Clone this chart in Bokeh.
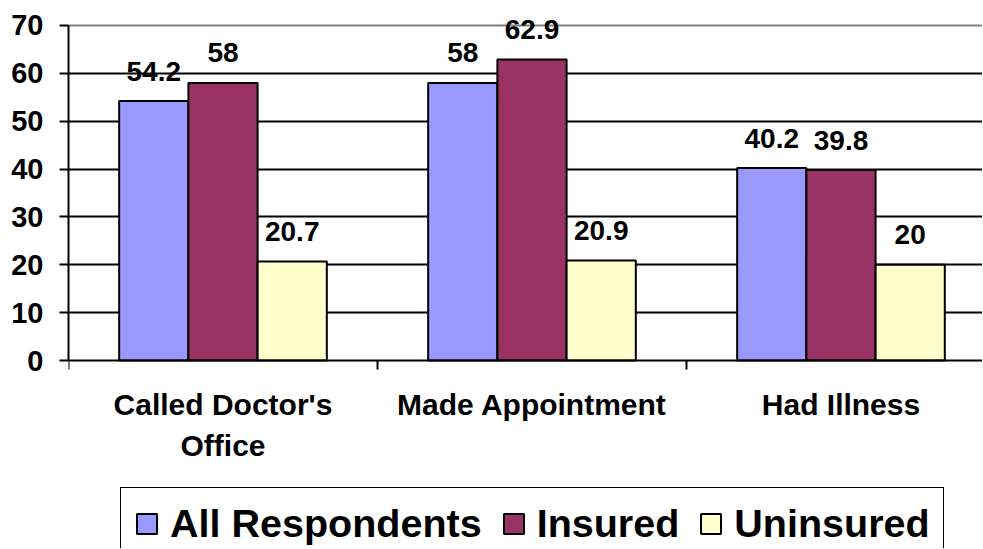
from bokeh.plotting import figure
from bokeh.models import (ColumnDataSource, FixedTicker, Range1d, Legend, LegendItem, Grid)
from bokeh.core.properties import value
from bokeh.embed import file_html
from bokeh.resources import INLINE

# ---- data ----
categories = ["Called Doctor's\nOffice", "Made Appointment", "Had Illness"]
series_names = ["All Respondents", "Insured", "Uninsured"]
all_respondents = [54.2, 58, 40.2]
insured = [58, 62.9, 39.8]
uninsured = [20.7, 20.9, 20]
y_ticks = [0, 10, 20, 30, 40, 50, 60, 70]
colors = ["#9999FF", "#993366", "#FFFFCC"]

FONT = "Liberation Sans"
BAR_W = 0.224

# the frame fills the whole figure (apart from the left axis) so that the value
# labels above the bars and the legend below the category axis (fixed at y = 0)
# are not clipped
p = figure(width=982, height=548, output_backend="svg", toolbar_location=None,
           x_range=Range1d(0, 2.958), y_range=Range1d(-39.28, 75.22),
           min_border_left=68, min_border_right=0, min_border_top=0,
           min_border_bottom=0)
p.outline_line_color = None
p.background_fill_color = "white"
p.border_fill_color = "white"

# bars and labels
renderers = []
for k, (name, vals, col) in enumerate(zip(series_names, [all_respondents, insured, uninsured], colors)):
    xs = [i + 0.5 + (k - 1) * BAR_W for i in range(len(categories))]
    src = ColumnDataSource(dict(x=xs, top=vals, label=[f"{v:g}" for v in vals]))
    r = p.vbar(x="x", top="top", bottom=0, width=BAR_W, source=src,
               fill_color=col, line_color="black", line_width=2)
    renderers.append(r)
    p.text(x="x", y="top", text="label", source=src, text_align="center",
           text_baseline="alphabetic", y_offset=-30, text_font=value(FONT),
           text_font_style="bold", text_font_size="28px", text_color="black")

# y axis
yax = p.yaxis[0]
yax.ticker = FixedTicker(ticks=y_ticks, minor_ticks=[])
yax.bounds = (y_ticks[0], y_ticks[-1])
yax.major_label_text_font = FONT
yax.major_label_text_font_style = "bold"
yax.major_label_text_font_size = "29px"
yax.major_label_text_color = "black"
yax.major_tick_out = 9
yax.major_tick_in = 0
yax.major_tick_line_width = 2
yax.major_tick_line_color = "black"
yax.axis_line_width = 2
yax.axis_line_color = "black"
yax.major_label_standoff = 16

# x axis
xax = p.xaxis[0]
xax.fixed_location = 0
centers = [i + 0.5 for i in range(len(categories))]
xax.ticker = FixedTicker(ticks=centers, minor_ticks=list(range(len(categories) + 1)))
xax.major_label_overrides = {c: lab for c, lab in zip(centers, categories)}
xax.major_label_text_font = FONT
xax.major_label_text_font_style = "bold"
xax.major_label_text_font_size = "30px"
xax.major_label_text_color = "black"
xax.major_label_text_line_height = 1.27
xax.major_tick_line_color = None
xax.major_tick_out = 0
xax.major_tick_in = 0
xax.minor_tick_out = 9
xax.minor_tick_in = 0
xax.minor_tick_line_width = 2
xax.minor_tick_line_color = "black"
xax.axis_line_width = 2
xax.axis_line_color = "black"
xax.major_label_standoff = 18

# grids
p.xgrid.visible = False
p.ygrid.ticker = FixedTicker(ticks=y_ticks[1:-1])
p.ygrid.grid_line_color = "black"
p.ygrid.grid_line_width = 2
top_grid = Grid(dimension=1, ticker=FixedTicker(ticks=[y_ticks[-1]]),
                grid_line_color="#808080", grid_line_width=2)
p.add_layout(top_grid)

# legend
legend = Legend(items=[LegendItem(label=n, renderers=[r]) for n, r in zip(series_names, renderers)],
                orientation="horizontal", location=(52, -12),
                label_text_font=FONT, label_text_font_style="bold",
                label_text_font_size="39.5px", label_text_color="black",
                glyph_width=25, glyph_height=25, label_standoff=11, spacing=19,
                padding=13, margin=0, border_line_color="black", border_line_width=1.5,
                border_line_alpha=1.0,
                background_fill_color="white", background_fill_alpha=1.0)
p.add_layout(legend)

open("out.html", "w").write(file_html(p, INLINE))
